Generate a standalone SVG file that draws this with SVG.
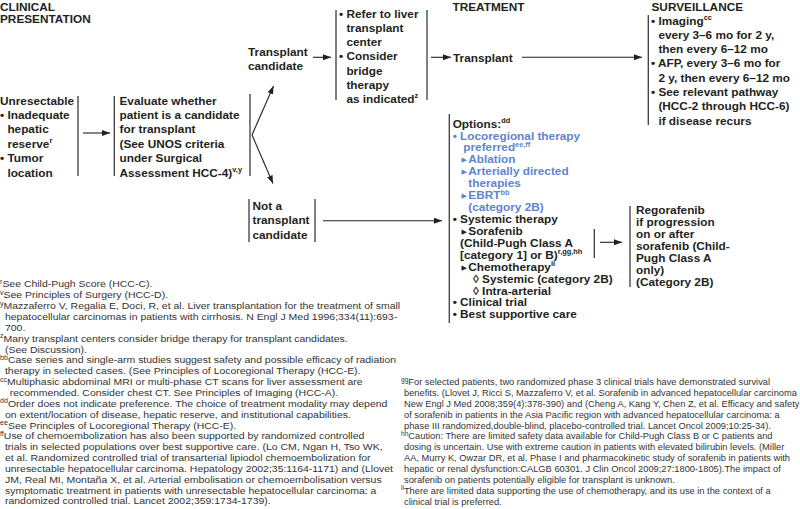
<svg xmlns="http://www.w3.org/2000/svg" width="800" height="509" viewBox="0 0 800 509">
<defs>
<marker id="ah" markerWidth="8" markerHeight="6" refX="8" refY="3" orient="auto" markerUnits="userSpaceOnUse"><path d="M0,0 L8,3 L0,6 z" fill="#231f20"/></marker>
<style>
text{font-family:"Liberation Sans",Arial,sans-serif}
.t{font-weight:bold;font-size:11.8px;fill:#231f20}
.b{fill:#5f84cf}
.s{font-size:7.4px}
.tri{font-family:"DejaVu Sans",sans-serif;font-size:7px}
.fn{font-size:9.7px;fill:#333}
.fr{font-size:9.3px;fill:#333}
.fs{font-size:6.6px}
.ln{stroke:#3c3c3c;stroke-width:1.3;fill:none}
.ar{stroke:#231f20;stroke-width:1.1;fill:none;marker-end:url(#ah)}
</style>
</defs>
<rect width="800" height="509" fill="#fff"/>

<g id="headers" class="t">
<text x="0" y="10.6">CLINICAL</text>
<text x="0" y="23">PRESENTATION</text>
<text x="452.5" y="10.6">TREATMENT</text>
<text x="651.5" y="10.6">SURVEILLANCE</text>
</g>

<g id="n-unresectable" class="t">
<text x="0" y="104.5">Unresectable</text>
<text x="0" y="118.9">• Inadequate</text>
<text x="7.4" y="133.3">hepatic</text>
<text x="7.4" y="147.7">reserve<tspan class="s" dy="-4.5">r</tspan></text>
<text x="0" y="162.1">• Tumor</text>
<text x="7.4" y="176.5">location</text>
<line class="ln" x1="78" y1="96" x2="78" y2="176"/>
</g>

<g id="n-evaluate" class="t">
<line class="ln" x1="114.3" y1="96" x2="114.3" y2="176"/>
<text x="119.5" y="104.5">Evaluate whether</text>
<text x="119.5" y="118.9">patient is a candidate</text>
<text x="119.5" y="133.3">for transplant</text>
<text x="119.5" y="147.7">(See UNOS criteria</text>
<text x="119.5" y="162.1">under Surgical</text>
<text x="119.5" y="176.5">Assessment HCC-4)<tspan class="s" dy="-4.5">v,y</tspan></text>
<line class="ln" x1="250" y1="94" x2="250" y2="176"/>
</g>

<g id="n-candidate" class="t">
<text x="248" y="56">Transplant</text>
<text x="248" y="70.3">candidate</text>
</g>

<g id="n-refer" class="t">
<line class="ln" x1="336" y1="10" x2="336" y2="100"/>
<text x="339" y="17.7">• Refer to liver</text>
<text x="346.4" y="31.9">transplant</text>
<text x="346.4" y="46.1">center</text>
<text x="339" y="60.3">• Consider</text>
<text x="346.4" y="74.5">bridge</text>
<text x="346.4" y="88.7">therapy</text>
<text x="346.4" y="102.9">as indicated<tspan class="s" dy="-4.5">z</tspan></text>
<line class="ln" x1="427" y1="10" x2="427" y2="100"/>
</g>

<g id="n-transplant" class="t">
<text x="453" y="61.5">Transplant</text>
</g>

<g id="n-surveillance" class="t">
<line class="ln" x1="648.3" y1="15" x2="648.3" y2="125"/>
<text x="651" y="24.5">• Imaging<tspan class="s" dy="-4.5">cc</tspan></text>
<text x="658.4" y="38.8">every 3–6 mo for 2 y,</text>
<text x="658.4" y="53.1">then every 6–12 mo</text>
<text x="651" y="67.4">• AFP, every 3–6 mo for</text>
<text x="658.4" y="81.7">2 y, then every 6–12 mo</text>
<text x="651" y="96">• See relevant pathway</text>
<text x="658.4" y="110.3">(HCC-2 through HCC-6)</text>
<text x="658.4" y="124.6">if disease recurs</text>
</g>

<g id="n-not-candidate" class="t">
<line class="ln" x1="249" y1="199" x2="249" y2="242"/>
<text x="252.5" y="210">Not a</text>
<text x="252.5" y="224.3">transplant</text>
<text x="252.5" y="238.6">candidate</text>
<line class="ln" x1="315" y1="199" x2="315" y2="242"/>
</g>

<g id="n-options" class="t">
<line class="ln" x1="449.3" y1="114" x2="449.3" y2="323"/>
<text x="452.7" y="127.6">Options:<tspan class="s" dy="-4.5">dd</tspan></text>
<text class="t b" x="452.7" y="139.5">• Locoregional therapy</text>
<text class="t b" x="463.3" y="151.4">preferred<tspan class="s" dy="-4.5">ee,ff</tspan></text>
<text class="tri b" x="461.5" y="162.4">▶</text>
<text class="t b" x="468.3" y="163.4">Ablation</text>
<text class="tri b" x="461.5" y="174.3">▶</text>
<text class="t b" x="468.3" y="175.3">Arterially directed</text>
<text class="t b" x="468.3" y="187.2">therapies</text>
<text class="tri b" x="461.5" y="198.1">▶</text>
<text class="t b" x="468.3" y="199.1">EBRT<tspan class="s" dy="-4.5">bb</tspan></text>
<text class="t b" x="468.3" y="211">(category 2B)</text>
<text x="452.7" y="223">• Systemic therapy</text>
<text class="tri" x="461.5" y="233.9" fill="#231f20">▶</text>
<text x="468.3" y="234.9">Sorafenib</text>
<text x="460" y="246.8">(Child-Pugh Class A</text>
<text x="460" y="258.7">[category 1] or B)<tspan class="s" dy="-4.5">r,gg,hh</tspan></text>
<text class="tri" x="461.5" y="269.6" fill="#231f20">▶</text>
<text x="468.3" y="270.6">Chemotherapy<tspan class="s" dy="-4.5">ii</tspan></text>
<text x="473" y="282.6">◊ Systemic (category 2B)</text>
<text x="473" y="294.5">◊ Intra-arterial</text>
<text x="452.7" y="306.4">• Clinical trial</text>
<text x="452.7" y="318.3">• Best supportive care</text>
<line class="ln" x1="594.3" y1="229" x2="594.3" y2="258"/>
</g>

<g id="n-regorafenib" class="t">
<line class="ln" x1="630" y1="206" x2="630" y2="287"/>
<text x="636" y="214.3">Regorafenib</text>
<text x="636" y="226.2">if progression</text>
<text x="636" y="238.1">on or after</text>
<text x="636" y="250">sorafenib (Child-</text>
<text x="636" y="261.9">Pugh Class A</text>
<text x="636" y="273.8">only)</text>
<text x="636" y="285.7">(Category 2B)</text>
</g>

<g id="connectors">
<line class="ar" x1="83" y1="133" x2="110" y2="133"/>
<line class="ar" x1="252" y1="135" x2="273.5" y2="86"/>
<line class="ar" x1="252" y1="135" x2="273" y2="183.5"/>
<line class="ar" x1="313" y1="57.3" x2="331" y2="57.3"/>
<line class="ar" x1="431" y1="57.3" x2="451" y2="57.3"/>
<line class="ar" x1="522" y1="57.3" x2="642" y2="57.3"/>
<line class="ar" x1="323" y1="220.7" x2="442" y2="220.7"/>
<line class="ar" x1="600" y1="242.3" x2="622" y2="242.3"/>
</g>

<g id="footnotes-left" class="fn" transform="scale(1.08,1)">
<text x="0" y="287.5"><tspan class="fs" dy="-3.5">r</tspan><tspan dy="3.5">See Child-Pugh Score (HCC-C).</tspan></text>
<text x="0" y="298.35"><tspan class="fs" dy="-3.5">v</tspan><tspan dy="3.5">See Principles of Surgery (HCC-D).</tspan></text>
<text x="0" y="309.2"><tspan class="fs" dy="-3.5">y</tspan><tspan dy="3.5">Mazzaferro V, Regalia E, Doci, R, et al. Liver transplantation for the treatment of small</tspan></text>
<text x="4.6" y="320.05">hepatocellular carcinomas in patients with cirrhosis. N Engl J Med 1996;334(11):693-</text>
<text x="4.6" y="330.9">700.</text>
<text x="0" y="341.75"><tspan class="fs" dy="-3.5">z</tspan><tspan dy="3.5">Many transplant centers consider bridge therapy for transplant candidates.</tspan></text>
<text x="4.6" y="352.6">(See Discussion).</text>
<text x="0" y="363.45"><tspan class="fs" dy="-3.5">bb</tspan><tspan dy="3.5">Case series and single-arm studies suggest safety and possible efficacy of radiation</tspan></text>
<text x="4.6" y="374.3">therapy in selected cases. (See Principles of Locoregional Therapy (HCC-E).</text>
<text x="0" y="385.15"><tspan class="fs" dy="-3.5">cc</tspan><tspan dy="3.5">Multiphasic abdominal MRI or multi-phase CT scans for liver assessment are</tspan></text>
<text x="9" y="396">recommended. Consider chest CT. See Principles of Imaging (HCC-A).</text>
<text x="0" y="406.85"><tspan class="fs" dy="-3.5">dd</tspan><tspan dy="3.5">Order does not indicate preference. The choice of treatment modality may depend</tspan></text>
<text x="4.6" y="417.7">on extent/location of disease, hepatic reserve, and institutional capabilities.</text>
<text x="0" y="428.55"><tspan class="fs" dy="-3.5">ee</tspan><tspan dy="3.5">See Principles of Locoregional Therapy (HCC-E).</tspan></text>
<text x="0" y="439.4"><tspan class="fs" dy="-3.5">ff</tspan><tspan dy="3.5">Use of chemoembolization has also been supported by randomized controlled</tspan></text>
<text x="4.6" y="450.25">trials in selected populations over best supportive care. (Lo CM, Ngan H, Tso WK,</text>
<text x="4.6" y="461.1">et al. Randomized controlled trial of transarterial lipiodol chemoembolization for</text>
<text x="4.6" y="471.95">unresectable hepatocellular carcinoma. Hepatology 2002;35:1164-1171) and (Llovet</text>
<text x="4.6" y="482.8">JM, Real MI, Montaña X, et al. Arterial embolisation or chemoembolisation versus</text>
<text x="4.6" y="493.65">symptomatic treatment in patients with unresectable hepatocellular carcinoma: a</text>
<text x="4.6" y="504.5">randomized controlled trial. Lancet 2002;359:1734-1739).</text>
</g>

<g id="footnotes-right" class="fr">
<text x="401" y="385.15"><tspan class="fs" dy="-3.5">gg</tspan><tspan dy="3.5">For selected patients, two randomized phase 3 clinical trials have demonstrated survival</tspan></text>
<text x="404" y="396">benefits. (Llovet J, Ricci S, Mazzaferro V, et al. Sorafenib in advanced  hepatocellular carcinoma</text>
<text x="404" y="406.85">New Engl J Med 2008;359(4):378-390) and (Cheng A, Kang Y, Chen Z, et al. Efficacy and safety</text>
<text x="404" y="417.7">of sorafenib in patients in the Asia Pacific region with advanced hepatocellular carcinoma: a</text>
<text x="404" y="428.55">phase III randomized,double-blind,  placebo-controlled trial. Lancet Oncol 2009;10:25-34).</text>
<text x="401" y="439.4"><tspan class="fs" dy="-3.5">hh</tspan><tspan dy="3.5">Caution: There are limited safety data available for Child-Pugh Class B or C patients and</tspan></text>
<text x="404" y="450.25">dosing is uncertain. Use with extreme caution in patients with elevated bilirubin levels. (Miller</text>
<text x="404" y="461.1">AA, Murry K, Owzar DR, et al. Phase I and pharmacokinetic study of sorafenib in patients with</text>
<text x="404" y="471.95">hepatic or renal dysfunction:CALGB 60301. J Clin Oncol 2009;27:1800-1805).The impact of</text>
<text x="404" y="482.8">sorafenib on patients potentially eligible for transplant is unknown.</text>
<text x="401" y="493.65"><tspan class="fs" dy="-3.5">ii</tspan><tspan dy="3.5">There are limited data supporting the use of chemotherapy, and its use in the context of a</tspan></text>
<text x="404" y="504.5">clinical trial is preferred.</text>
</g>
</svg>
